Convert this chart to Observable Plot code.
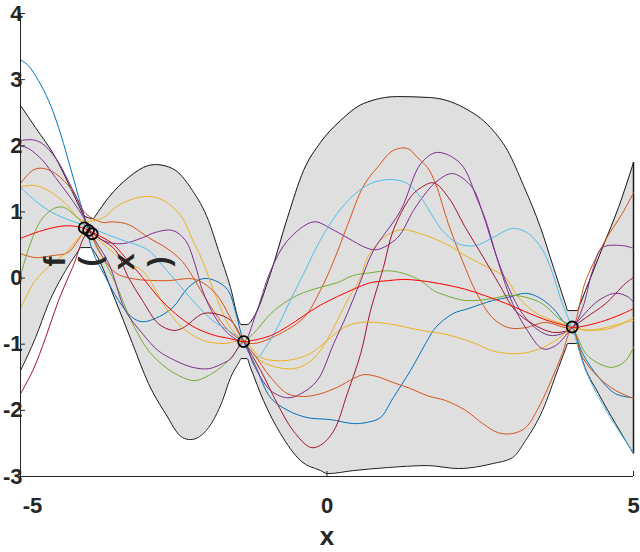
<!DOCTYPE html>
<html>
<head>
<meta charset="utf-8">
<script src="https://cdn.jsdelivr.net/npm/d3@7"></script>
<script src="https://cdn.jsdelivr.net/npm/@observablehq/plot@0.6"></script>
<style>
  html, body { margin: 0; padding: 0; background: #fff; }
</style>
</head>
<body>
<div id="chart"></div>
<script>
// ---- tick values ----
const xTicks = [-5, 0, 5];
const yTicks = [-3, -2, -1, 0, 1, 2, 3, 4];

// ---- observations ----
const obsX = [-3.96, -3.89, -3.83, -1.36, 4.00];
const obsY = [0.76, 0.72, 0.67, -0.96, -0.74];

// ---- confidence band (upper and lower edge) ----
const upperX = [-5.00,-4.755,-4.429,-4.217,-3.995,-3.972,-3.809,-3.785,-3.564,-3.238,-2.912,-2.798,-2.520,-2.194,-1.933,-1.770,-1.574,-1.430,-1.403,-1.305,-1.199,-0.922,-0.644,-0.383,-0.106,0.220,0.595,1.150,1.688,2.227,2.667,2.945,3.206,3.483,3.695,3.900,3.924,4.087,4.110,4.217,4.494,4.755,5.00];
const upperY = [2.61,2.275,1.822,1.429,0.99,0.945,0.900,0.931,1.217,1.520,1.701,1.716,1.656,1.323,0.869,0.416,-0.144,-0.66,-0.703,-0.703,-0.597,0.068,0.915,1.625,2.05,2.381,2.638,2.744,2.729,2.578,2.275,1.928,1.399,0.764,0.159,-0.423,-0.491,-0.491,-0.438,-0.189,0.461,1.066,1.746];
const lowerX = [-5.00,-4.755,-4.543,-4.266,-4.045,-4.021,-3.858,-3.777,-3.450,-3.173,-2.912,-2.635,-2.357,-2.227,-1.933,-1.705,-1.574,-1.430,-1.403,-1.305,-1.248,-1.036,-0.759,-0.432,-0.106,0.008,0.432,0.987,1.639,2.145,2.700,3.026,3.238,3.515,3.777,3.900,3.924,4.087,4.110,4.168,4.429,4.706,5.00];
const lowerY = [-1.399,-0.900,-0.386,0.113,0.427,0.461,0.461,0.370,-0.340,-0.990,-1.595,-2.049,-2.412,-2.442,-2.260,-1.852,-1.504,-1.262,-1.217,-1.217,-1.353,-1.852,-2.351,-2.759,-2.910,-2.956,-2.910,-2.865,-2.835,-2.880,-2.805,-2.714,-2.457,-2.003,-1.353,-1.05,-0.990,-0.990,-1.063,-1.247,-1.746,-2.200,-2.654];

// ---- posterior mean ----
const meanCurve = [[-5.00,0.60],[-4.64,0.72],[-4.27,0.79],[-3.99,0.76],[-3.78,0.67],[-3.50,0.52],[-3.29,0.31],[-3.01,0.01],[-2.75,-0.29],[-2.47,-0.54],[-2.15,-0.75],[-1.82,-0.87],[-1.61,-0.91],[-1.36,-0.96],[-1.20,-0.94],[-0.92,-0.87],[-0.64,-0.73],[-0.38,-0.57],[-0.11,-0.41],[0.17,-0.28],[0.43,-0.17],[0.71,-0.07],[0.99,-0.04],[1.25,-0.02],[1.53,-0.04],[1.93,-0.10],[2.26,-0.17],[2.59,-0.27],[2.91,-0.38],[3.24,-0.51],[3.56,-0.63],[3.89,-0.72],[4.00,-0.75],[4.22,-0.72],[4.54,-0.64],[4.87,-0.52],[5.00,-0.46]];

// ---- posterior samples ----
const sampleBlue = [[-5.00,3.30],[-4.87,3.21],[-4.71,2.99],[-4.54,2.68],[-4.38,2.28],[-4.22,1.78],[-4.05,1.22],[-3.94,0.87],[-3.83,0.42],[-3.61,0.01],[-3.40,-0.34],[-3.17,-0.60],[-3.01,-0.66],[-2.80,-0.61],[-2.52,-0.45],[-2.26,-0.14],[-2.03,-0.01],[-1.82,-0.04],[-1.61,-0.19],[-1.49,-0.52],[-1.36,-0.96],[-1.17,-1.32],[-0.92,-1.81],[-0.64,-2.00],[-0.32,-2.11],[0.06,-2.14],[0.43,-2.20],[0.66,-2.18],[0.87,-2.11],[1.08,-1.81],[1.36,-1.40],[1.64,-0.94],[1.77,-0.75],[2.05,-0.54],[2.31,-0.46],[2.70,-0.34],[2.96,-0.29],[3.24,-0.23],[3.45,-0.29],[3.68,-0.45],[3.89,-0.69],[4.00,-0.75],[4.17,-1.14],[4.43,-1.50],[4.71,-1.75],[5.00,-1.81]];
const sampleOrangeA = [[-5.00,1.43],[-4.80,1.63],[-4.64,1.66],[-4.43,1.58],[-4.15,1.32],[-3.94,0.98],[-3.66,0.84],[-3.50,0.85],[-3.24,0.81],[-2.91,0.61],[-2.63,0.46],[-2.36,0.25],[-2.03,-0.23],[-1.82,-0.54],[-1.61,-0.79],[-1.36,-0.96],[-1.20,-0.99],[-0.92,-0.91],[-0.38,-0.60],[-0.11,-0.19],[0.11,0.26],[0.33,0.79],[0.60,1.40],[0.82,1.67],[1.08,1.93],[1.31,1.96],[1.48,1.82],[1.64,1.67],[1.77,1.43],[1.98,0.82],[2.21,0.26],[2.42,-0.19],[2.70,-0.60],[2.96,-0.75],[3.24,-0.75],[3.56,-0.67],[3.89,-0.75],[4.00,-0.75],[4.22,-0.04],[4.54,0.57],[4.82,0.98],[5.00,1.29]];
const sampleYellowA = [[-5.00,1.38],[-4.76,1.40],[-4.54,1.32],[-4.27,1.13],[-3.99,0.87],[-3.66,0.91],[-3.45,1.07],[-3.24,1.17],[-3.01,1.23],[-2.80,1.22],[-2.59,1.13],[-2.36,0.91],[-2.19,0.57],[-2.03,0.26],[-1.82,-0.26],[-1.57,-0.76],[-1.36,-0.96],[-1.08,-1.25],[-0.81,-1.35],[-0.55,-1.37],[-0.32,-1.29],[-0.11,-1.10],[0.11,-0.75],[0.33,-0.34],[0.55,0.01],[0.66,0.31],[0.92,0.61],[1.20,0.73],[1.53,0.67],[1.93,0.52],[2.31,0.31],[2.63,0.16],[2.91,0.01],[3.12,-0.29],[3.35,-0.49],[3.56,-0.60],[3.84,-0.69],[4.00,-0.75],[4.33,-0.79],[4.66,-0.75],[5.00,-0.60]];
const samplePurpleA = [[-5.00,2.08],[-4.80,2.09],[-4.64,2.03],[-4.43,1.82],[-4.22,1.47],[-3.99,1.02],[-3.89,0.75],[-3.66,0.57],[-3.34,0.52],[-3.01,0.61],[-2.80,0.69],[-2.52,0.72],[-2.31,0.57],[-2.15,0.20],[-2.03,-0.19],[-1.82,-0.60],[-1.61,-0.84],[-1.36,-0.96],[-1.17,-0.57],[-0.92,0.11],[-0.64,0.57],[-0.22,0.85],[0.06,0.75],[0.33,0.61],[0.66,0.45],[0.82,0.43],[1.15,0.61],[1.41,1.02],[1.64,1.32],[1.80,1.47],[2.05,1.58],[2.37,1.37],[2.54,0.98],[2.75,0.37],[2.96,-0.14],[3.19,-0.54],[3.45,-0.79],[3.68,-0.87],[4.00,-0.75],[4.17,-0.45],[4.33,0.11],[4.49,0.46],[4.82,0.49],[5.00,0.45]];
const sampleGreen = [[-5.00,0.04],[-4.92,0.29],[-4.84,0.52],[-4.67,0.87],[-4.46,1.05],[-4.30,1.07],[-4.07,0.91],[-3.91,0.75],[-3.66,0.31],[-3.45,-0.08],[-3.17,-0.69],[-2.91,-1.10],[-2.63,-1.35],[-2.36,-1.50],[-2.15,-1.55],[-1.87,-1.44],[-1.61,-1.25],[-1.36,-0.96],[-1.20,-0.84],[-0.92,-0.54],[-0.64,-0.34],[-0.38,-0.22],[-0.11,-0.14],[0.17,-0.07],[0.43,0.04],[0.71,0.08],[0.99,0.11],[1.25,0.07],[1.53,-0.04],[1.74,-0.19],[1.93,-0.26],[2.26,-0.34],[2.70,-0.31],[2.96,-0.26],[3.24,-0.29],[3.52,-0.39],[3.78,-0.61],[4.00,-0.75],[4.22,-1.14],[4.43,-1.29],[4.66,-1.35],[4.87,-1.25],[5.00,-1.05]];
const sampleLightBlue = [[-5.00,1.37],[-4.76,1.17],[-4.54,1.02],[-4.27,0.90],[-3.94,0.79],[-3.45,0.61],[-2.91,0.42],[-2.75,0.26],[-2.47,-0.04],[-2.19,-0.34],[-1.87,-0.64],[-1.61,-0.79],[-1.36,-0.96],[-1.13,-1.20],[-1.04,-1.10],[-0.81,-0.75],[-0.60,-0.34],[-0.38,0.07],[-0.11,0.57],[0.17,0.98],[0.43,1.25],[0.71,1.43],[1.04,1.49],[1.31,1.43],[1.53,1.22],[1.74,0.91],[1.88,0.72],[2.14,0.52],[2.42,0.49],[2.70,0.61],[3.03,0.75],[3.29,0.67],[3.52,0.42],[3.68,0.07],[3.84,-0.39],[4.00,-0.75],[4.22,-1.40],[4.49,-1.90],[4.76,-2.31],[5.00,-2.64]];
const sampleDarkRed = [[-5.00,-1.75],[-4.80,-1.40],[-4.59,-0.90],[-4.38,-0.34],[-4.15,0.16],[-3.89,0.69],[-3.66,0.57],[-3.45,0.42],[-3.24,0.01],[-3.01,-0.34],[-2.75,-0.69],[-2.52,-0.79],[-2.36,-0.76],[-2.03,-0.54],[-1.82,-0.54],[-1.57,-0.64],[-1.36,-0.96],[-1.08,-1.40],[-0.81,-1.90],[-0.55,-2.31],[-0.27,-2.56],[-0.11,-2.53],[0.11,-2.31],[0.33,-1.75],[0.55,-1.14],[0.71,-0.49],[0.92,0.16],[1.08,0.72],[1.36,1.22],[1.52,1.36],[1.74,1.44],[1.98,1.22],[2.26,0.76],[2.54,0.33],[2.80,-0.08],[3.07,-0.49],[3.35,-0.69],[3.68,-0.82],[3.94,-0.79],[4.00,-0.75],[4.22,-0.60],[4.54,-0.39],[4.87,-0.08],[5.00,0.01]];
const sampleOrangeB = [[-5.00,0.37],[-4.76,0.31],[-4.48,0.34],[-4.22,0.39],[-3.91,0.72],[-3.73,0.42],[-3.45,0.08],[-3.17,-0.01],[-2.63,-0.04],[-2.15,-0.02],[-1.82,-0.23],[-1.57,-0.61],[-1.36,-0.96],[-1.20,-1.14],[-0.92,-1.50],[-0.64,-1.75],[-0.38,-1.79],[-0.11,-1.75],[0.17,-1.65],[0.43,-1.52],[0.60,-1.46],[0.82,-1.49],[1.08,-1.58],[1.36,-1.67],[1.64,-1.78],[1.93,-1.85],[2.26,-2.00],[2.54,-2.20],[2.80,-2.34],[3.03,-2.35],[3.24,-2.26],[3.45,-1.96],[3.68,-1.50],[3.84,-1.14],[4.00,-0.75],[4.17,-1.20],[4.43,-1.50],[4.71,-1.70],[5.00,-1.82]];
const sampleYellowB = [[-5.00,-0.46],[-4.76,-0.04],[-4.48,0.22],[-4.27,0.37],[-3.94,0.67],[-3.53,0.42],[-3.29,0.23],[-3.01,0.11],[-2.63,-0.45],[-2.36,-0.75],[-2.03,-0.94],[-1.70,-0.99],[-1.36,-0.96],[-1.08,-1.20],[-0.81,-1.25],[-0.55,-1.23],[-0.27,-1.14],[0.01,-0.94],[0.27,-0.75],[0.55,-0.67],[0.99,-0.69],[1.53,-0.79],[1.88,-0.84],[2.14,-0.90],[2.42,-0.99],[2.70,-1.10],[2.96,-1.14],[3.24,-1.13],[3.52,-1.05],[3.78,-0.91],[4.00,-0.75],[4.22,-0.79],[4.54,-0.75],[4.87,-0.67],[5.00,-0.64]];
const samplePurpleB = [[-5.00,2.00],[-4.87,1.96],[-4.64,1.78],[-4.43,1.52],[-4.15,1.17],[-3.97,0.91],[-3.86,0.69],[-3.56,0.22],[-3.29,-0.49],[-3.01,-0.84],[-2.75,-1.10],[-2.47,-1.25],[-2.19,-1.35],[-1.93,-1.37],[-1.70,-1.29],[-1.57,-1.22],[-1.36,-0.96],[-1.20,-1.30],[-0.92,-1.70],[-0.64,-1.81],[-0.43,-1.75],[-0.16,-1.55],[0.11,-0.99],[0.33,-0.54],[0.55,-0.04],[0.76,0.42],[1.20,1.02],[1.53,1.73],[1.80,1.90],[2.18,1.73],[2.46,1.17],[2.59,0.87],[2.80,0.22],[3.03,-0.39],[3.24,-0.75],[3.52,-1.07],[3.73,-1.02],[4.00,-0.75],[4.43,-0.34],[4.71,-0.23],[4.92,-0.29],[5.00,-0.37]];

const samples = [sampleBlue, sampleOrangeA, sampleYellowA, samplePurpleA, sampleGreen, sampleLightBlue, sampleDarkRed, sampleOrangeB, sampleYellowB, samplePurpleB];
const sampleColors = ["#0072BD", "#D95319", "#EDB120", "#7E2F8E", "#77AC30", "#4DBEEE", "#A2142F", "#D95319", "#EDB120", "#7E2F8E"];

// ---- y label glyphs (as drawn, each glyph turned) ----
const yLabelChars = ["f", "(", "x", ")"];
const yLabelX = [-4.43, -3.86, -3.30, -2.73];
const yLabelY = 0.25;

// build tables for the library
const upperPts = upperX.map((x, i) => ({x, y: upperY[i]}));
const lowerPts = lowerX.map((x, i) => ({x, y: lowerY[i]}));
const obs = obsX.map((x, i) => ({x, y: obsY[i]}));
const rightEdge = [{x: upperX[upperX.length - 1], y1: lowerY[lowerY.length - 1], y2: upperY[upperY.length - 1]}];
const yMin = yTicks[0];

const textColor = "#262626";
const font = "'Liberation Sans', Arial, Helvetica, sans-serif";
const bandCurve = "monotone-x";

const chart = Plot.plot({
  width: 640,
  height: 552,
  marginLeft: 20,
  marginRight: 7,
  marginTop: 13,
  marginBottom: 76,
  x: {domain: [-5, 5]},
  y: {domain: [-3, 4]},
  style: {fontFamily: font, color: textColor, background: "white", overflow: "visible"},
  marks: [
    // band: grey under the upper edge, then white under the lower edge
    Plot.areaY(upperPts, {x: "x", y1: yMin, y2: "y", fill: "#dfdfdf", curve: bandCurve}),
    Plot.areaY(lowerPts, {x: "x", y1: yMin, y2: "y", fill: "white", curve: bandCurve}),
    Plot.line(upperPts, {x: "x", y: "y", stroke: "#1a1a1a", strokeWidth: 1, curve: bandCurve}),
    Plot.line(lowerPts, {x: "x", y: "y", stroke: "#1a1a1a", strokeWidth: 1, curve: bandCurve}),
    Plot.ruleX(rightEdge, {x: "x", y1: "y1", y2: "y2", stroke: "#1a1a1a", strokeWidth: 1.5}),
    ...samples.map((s, i) => Plot.line(s, {x: d => d[0], y: d => d[1], stroke: sampleColors[i], strokeWidth: 1, curve: "catmull-rom"})),
    Plot.line(meanCurve, {x: d => d[0], y: d => d[1], stroke: "#FF0000", strokeWidth: 1, curve: "catmull-rom"}),
    Plot.dot(obs, {x: "x", y: "y", r: 5.5, stroke: "black", strokeWidth: 1.8, fill: "none"}),
    Plot.ruleX([-5], {stroke: textColor, strokeWidth: 1}),
    Plot.ruleY([-3], {stroke: textColor, strokeWidth: 1}),
    // inward tick marks
    Plot.axisY({ticks: yTicks, tickSize: 5, dx: 5, tickFormat: () => "", label: null, stroke: textColor}),
    Plot.axisX({ticks: xTicks, tickSize: 5, dy: -5, tickFormat: () => "", label: null, stroke: textColor}),
    // tick labels
    Plot.axisY({ticks: yTicks, tickSize: 0, tickPadding: -2, tickFormat: d => String(d), label: null,
      fontSize: 22, fontWeight: "bold", fill: textColor}),
    Plot.axisX({ticks: [0, 5], tickSize: 0, tickPadding: 21, tickFormat: d => String(d), label: null,
      fontSize: 22, fontWeight: "bold", fill: textColor}),
    Plot.axisX({ticks: [-5], tickSize: 0, tickPadding: 21, dx: 12, tickFormat: d => String(d), label: null,
      fontSize: 22, fontWeight: "bold", fill: textColor}),
    // axis titles
    Plot.text(["x"], {frameAnchor: "bottom", text: d => d, dy: 60, fontSize: 26, fontWeight: "bold", fill: textColor, lineAnchor: "middle"}),
    Plot.text(yLabelChars, {x: (d, i) => yLabelX[i], y: () => yLabelY, text: d => d, rotate: -90,
      fontSize: 30, fontWeight: "bold", fill: textColor, lineAnchor: "middle"})
  ]
});

document.getElementById("chart").appendChild(chart);
</script>
</body>
</html>
